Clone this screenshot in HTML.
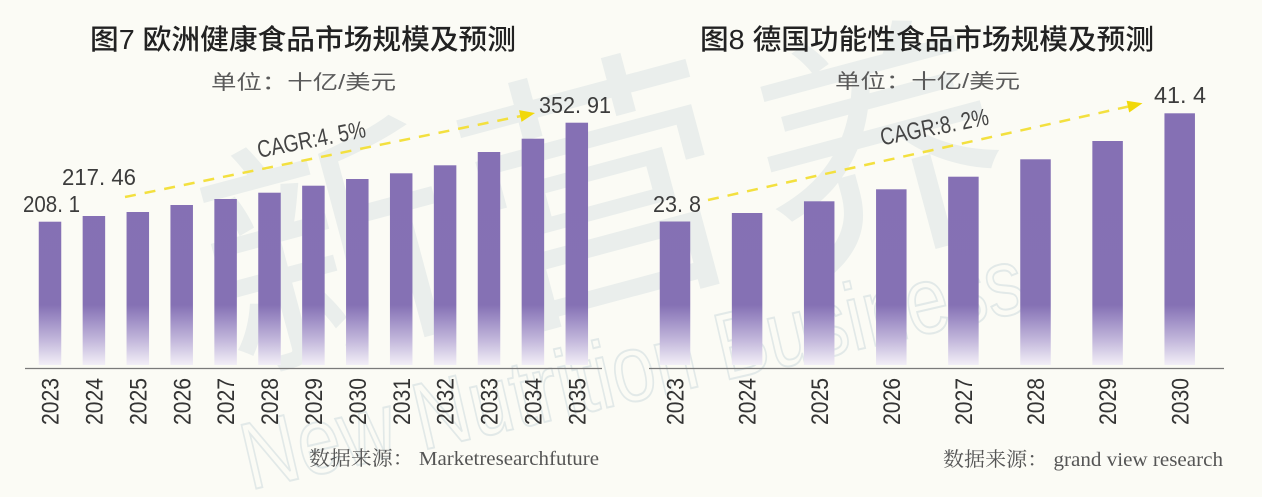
<!DOCTYPE html>
<html>
<head>
<meta charset="utf-8">
<style>
  html, body { margin:0; padding:0; background:#fbfbf5; }
  body { width:1262px; height:497px; overflow:hidden; }
  svg { display:block; }
  .yr { font-family:"Liberation Sans", sans-serif; font-size:24px; fill:#333; }
  .val { font-family:"Liberation Sans", sans-serif; font-size:23px; fill:#3c3c3c; }
  .ttl { font-family:"Liberation Sans","Noto Sans CJK SC",sans-serif; font-size:28px; fill:#222; font-weight:500; }
  .sub { font-family:"Liberation Sans","Noto Sans CJK SC",sans-serif; font-size:20px; fill:#5a5a5a; }
  .src { font-family:"Liberation Serif","Noto Serif CJK SC",serif; font-size:20px; fill:#555; }
  .cagr { font-family:"Liberation Sans", sans-serif; font-size:24px; fill:#444; }
</style>
</head>
<body>
<svg width="1262" height="497" viewBox="0 0 1262 497" xmlns="http://www.w3.org/2000/svg">
  <defs>
    <linearGradient id="g" gradientUnits="userSpaceOnUse" x1="0" y1="115" x2="0" y2="366">
      <stop offset="0" stop-color="#8570b4"/>
      <stop offset="0.757" stop-color="#8571b4"/>
      <stop offset="0.81" stop-color="#9c8bc4"/>
      <stop offset="0.9" stop-color="#c4b9dc"/>
      <stop offset="1" stop-color="#f4f1f8"/>
    </linearGradient>
  </defs>
  <rect x="0" y="0" width="1262" height="497" fill="#fbfbf5"/>

  <!-- watermark -->
  <g font-family="'Noto Sans CJK SC', sans-serif" fill="#e6ecea" opacity="0.8">
    <text x="330" y="340" font-size="250" text-anchor="middle" transform="rotate(-15 330 250)">新</text>
    <text x="600" y="290" font-size="270" text-anchor="middle" transform="rotate(-15 600 200)">营</text>
    <text x="880" y="240" font-size="250" text-anchor="middle" transform="rotate(-15 880 150)">养</text>
  </g>
  <text x="250" y="490" font-family="'Liberation Sans', sans-serif" font-size="95" fill="none" stroke="#e2e9e8" stroke-width="2" textLength="800" lengthAdjust="spacingAndGlyphs" transform="rotate(-13 250 490)">New Nutrition Business</text>

  <!-- LEFT CHART -->
  <text class="ttl" x="90" y="49" textLength="426" lengthAdjust="spacingAndGlyphs">图7 欧洲健康食品市场规模及预测</text>
  <text class="sub" x="211" y="89" textLength="185" lengthAdjust="spacingAndGlyphs">单位：十亿/美元</text>

  <g fill="url(#g)">
    <rect x="38.75" y="221.7" width="22.5" height="143.3"/>
    <rect x="82.65" y="216" width="22.5" height="149"/>
    <rect x="126.55" y="212" width="22.5" height="153"/>
    <rect x="170.45" y="205" width="22.5" height="160"/>
    <rect x="214.35" y="199" width="22.5" height="166"/>
    <rect x="258.25" y="192.7" width="22.5" height="172.3"/>
    <rect x="302.15" y="185.7" width="22.5" height="179.3"/>
    <rect x="346.05" y="179" width="22.5" height="186"/>
    <rect x="389.95" y="173.3" width="22.5" height="191.7"/>
    <rect x="433.85" y="165.3" width="22.5" height="199.7"/>
    <rect x="477.75" y="152" width="22.5" height="213"/>
    <rect x="521.65" y="138.7" width="22.5" height="226.3"/>
    <rect x="565.55" y="122.7" width="22.5" height="242.3"/>
  </g>
  <line x1="25" y1="368.5" x2="602" y2="368.5" stroke="#7a7a7a" stroke-width="1.2"/>

  <g class="yr" text-anchor="end">
    <text x="58.6" y="378" textLength="47" lengthAdjust="spacingAndGlyphs" transform="rotate(-90 58.6 378)">2023</text>
    <text x="102.5" y="378" textLength="47" lengthAdjust="spacingAndGlyphs" transform="rotate(-90 102.5 378)">2024</text>
    <text x="146.4" y="378" textLength="47" lengthAdjust="spacingAndGlyphs" transform="rotate(-90 146.4 378)">2025</text>
    <text x="190.3" y="378" textLength="47" lengthAdjust="spacingAndGlyphs" transform="rotate(-90 190.3 378)">2026</text>
    <text x="234.2" y="378" textLength="47" lengthAdjust="spacingAndGlyphs" transform="rotate(-90 234.2 378)">2027</text>
    <text x="278.1" y="378" textLength="47" lengthAdjust="spacingAndGlyphs" transform="rotate(-90 278.1 378)">2028</text>
    <text x="322" y="378" textLength="47" lengthAdjust="spacingAndGlyphs" transform="rotate(-90 322 378)">2029</text>
    <text x="365.9" y="378" textLength="47" lengthAdjust="spacingAndGlyphs" transform="rotate(-90 365.9 378)">2030</text>
    <text x="409.8" y="378" textLength="47" lengthAdjust="spacingAndGlyphs" transform="rotate(-90 409.8 378)">2031</text>
    <text x="453.7" y="378" textLength="47" lengthAdjust="spacingAndGlyphs" transform="rotate(-90 453.7 378)">2032</text>
    <text x="497.6" y="378" textLength="47" lengthAdjust="spacingAndGlyphs" transform="rotate(-90 497.6 378)">2033</text>
    <text x="541.5" y="378" textLength="47" lengthAdjust="spacingAndGlyphs" transform="rotate(-90 541.5 378)">2034</text>
    <text x="585.4" y="378" textLength="47" lengthAdjust="spacingAndGlyphs" transform="rotate(-90 585.4 378)">2035</text>
  </g>

  <text class="val" x="23" y="212" textLength="57" lengthAdjust="spacingAndGlyphs">208. 1</text>
  <text class="val" x="62" y="185" textLength="74" lengthAdjust="spacingAndGlyphs">217. 46</text>
  <text class="val" x="539" y="113" textLength="72" lengthAdjust="spacingAndGlyphs">352. 91</text>

  <line x1="125" y1="197" x2="521" y2="116" stroke="#f3e03f" stroke-width="2.5" stroke-dasharray="11 9"/>
  <polygon points="535,113 521.5,121.9 519.1,110.1" fill="#f1d80a"/>
  <text class="cagr" x="311.5" y="140" text-anchor="middle" dominant-baseline="central" textLength="110" lengthAdjust="spacingAndGlyphs" transform="rotate(-11 311.5 140)">CAGR:4. 5%</text>

  <text class="src" x="309" y="465" textLength="290" lengthAdjust="spacingAndGlyphs">数据来源： Marketresearchfuture</text>

  <!-- RIGHT CHART -->
  <text class="ttl" x="700" y="49" textLength="454" lengthAdjust="spacingAndGlyphs">图8 德国功能性食品市场规模及预测</text>
  <text class="sub" x="835" y="88" textLength="185" lengthAdjust="spacingAndGlyphs">单位：十亿/美元</text>

  <g fill="url(#g)">
    <rect x="659.75" y="221.5" width="30.5" height="143.5"/>
    <rect x="731.85" y="213" width="30.5" height="152"/>
    <rect x="803.95" y="201.3" width="30.5" height="163.7"/>
    <rect x="876.05" y="189.3" width="30.5" height="175.7"/>
    <rect x="948.15" y="176.7" width="30.5" height="188.3"/>
    <rect x="1020.25" y="159.3" width="30.5" height="205.7"/>
    <rect x="1092.35" y="141" width="30.5" height="224"/>
    <rect x="1164.45" y="113.3" width="30.5" height="251.7"/>
  </g>
  <line x1="649" y1="368.5" x2="1224" y2="368.5" stroke="#7a7a7a" stroke-width="1.2"/>

  <g class="yr" text-anchor="end">
    <text x="683.6" y="378" textLength="47" lengthAdjust="spacingAndGlyphs" transform="rotate(-90 683.6 378)">2023</text>
    <text x="755.7" y="378" textLength="47" lengthAdjust="spacingAndGlyphs" transform="rotate(-90 755.7 378)">2024</text>
    <text x="827.8" y="378" textLength="47" lengthAdjust="spacingAndGlyphs" transform="rotate(-90 827.8 378)">2025</text>
    <text x="899.9" y="378" textLength="47" lengthAdjust="spacingAndGlyphs" transform="rotate(-90 899.9 378)">2026</text>
    <text x="972" y="378" textLength="47" lengthAdjust="spacingAndGlyphs" transform="rotate(-90 972 378)">2027</text>
    <text x="1044.1" y="378" textLength="47" lengthAdjust="spacingAndGlyphs" transform="rotate(-90 1044.1 378)">2028</text>
    <text x="1116.2" y="378" textLength="47" lengthAdjust="spacingAndGlyphs" transform="rotate(-90 1116.2 378)">2029</text>
    <text x="1188.3" y="378" textLength="47" lengthAdjust="spacingAndGlyphs" transform="rotate(-90 1188.3 378)">2030</text>
  </g>

  <text class="val" x="653" y="212" textLength="48" lengthAdjust="spacingAndGlyphs">23. 8</text>
  <text class="val" x="1154" y="103" textLength="52" lengthAdjust="spacingAndGlyphs">41. 4</text>

  <line x1="708" y1="200" x2="1128" y2="106.6" stroke="#f3e03f" stroke-width="2.5" stroke-dasharray="11 9"/>
  <polygon points="1142.5,103.3 1129.2,112.5 1126.6,100.7" fill="#f1d80a"/>
  <text class="cagr" x="934.5" y="127.5" text-anchor="middle" dominant-baseline="central" textLength="110" lengthAdjust="spacingAndGlyphs" transform="rotate(-11 934.5 127.5)">CAGR:8. 2%</text>

  <text class="src" x="943" y="466" textLength="280" lengthAdjust="spacingAndGlyphs">数据来源： grand view research</text>
</svg>
</body>
</html>
